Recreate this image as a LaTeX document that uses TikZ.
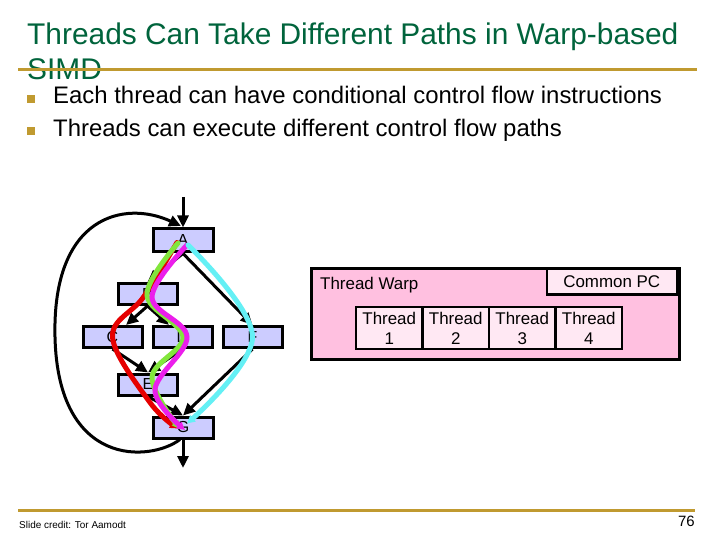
\documentclass[tikz,border=0pt]{standalone}
\usepackage{fontspec}
\setmainfont{Liberation Sans}
\usetikzlibrary{arrows.meta,calc}
\definecolor{titlegreen}{RGB}{0,100,60}
\definecolor{gold}{RGB}{192,154,48}
\definecolor{cfgfill}{RGB}{204,204,255}
\definecolor{warppink}{RGB}{255,192,224}
\definecolor{cellpink}{RGB}{255,232,243}
\definecolor{tred}{RGB}{230,0,0}
\definecolor{tgreen}{RGB}{130,230,60}
\definecolor{tmag}{RGB}{235,30,235}
\definecolor{tcyan}{RGB}{100,240,245}
\begin{document}
\begin{tikzpicture}[x=1bp,y=-1bp,
  cfg/.style={draw=black,line width=3bp,fill=cfgfill,minimum width=59bp,minimum height=21bp,inner sep=0pt,font=\fontsize{16}{18}\selectfont},
  edge/.style={draw=black,line width=3bp,-{Triangle[length=12bp,width=11bp]}},
  thread/.style={line width=5bp,line cap=round,-{Triangle[length=8bp,width=8bp]}},
  cell/.style={draw=black,line width=2.5bp,fill=cellpink,minimum width=66.5bp,minimum height=42bp,inner sep=0pt,align=center,font=\fontsize{17}{20}\selectfont},
  txt/.style={inner sep=0pt,anchor=base west},
  rule/.style={draw=gold,line width=3bp},
  bullet/.style={fill=gold,draw=none,minimum size=8bp,inner sep=0pt}
]
\useasboundingbox[fill=white] (0,0) rectangle (720,540);

% title and rules
\node[txt,text=titlegreen,font=\fontsize{30}{34}\selectfont] (t1) at (27,45) {Threads Can Take Different Paths in Warp-based};
\node[txt,text=titlegreen,font=\fontsize{30}{34}\selectfont] (t2) at (27,80) {SIMD};
\draw[rule] (18,70) -- (697,70);

% bullets
\node[bullet] (b1) at (31,99) {};
\node[bullet] (b2) at (31,131) {};
\node[txt,font=\fontsize{24}{28}\selectfont] (l1) at (53,104) {Each thread can have conditional control flow instructions};
\node[txt,font=\fontsize{24}{28}\selectfont] (l2) at (53,137) {Threads can execute different control flow paths};

% CFG nodes
\node[cfg,minimum width=60bp,minimum height=23bp] (A) at (183,240.5) {A};
\node[cfg] (B) at (147.5,294) {B};
\node[cfg] (C) at (112.5,337) {C};
\node[cfg] (D) at (182.5,337) {D};
\node[cfg] (F) at (252.5,337) {F};
\node[cfg] (E) at (148,384.5) {E};
\node[cfg,minimum width=60bp] (G) at (183,427.5) {G};

\coordinate (start) at (183,197);
\coordinate (stop) at (183,468);
\coordinate (Ain) at (181,226);

\draw[edge] (start) -- (A.north);
\draw[edge] (G.south) -- (stop);
\draw[edge] (A.south) -- (B.north);
\draw[edge] (A.south) -- (F.north);
\draw[edge] (B.south) -- (C);
\draw[edge] (B.south) -- (D);
\draw[edge] (C.south) -- (E.north);
\draw[edge] (D.south) -- (E.north);
\draw[edge] (E.south) -- (G.north);
\draw[edge] (F.south) -- (G.north);
\draw[edge] ([xshift=-3bp]G.south) .. controls (150,462) and (58,468) .. (55,337)
   .. controls (52,215) and (125,200) .. (Ain);

% thread paths
\draw[thread,tred] plot[smooth,tension=0.6] coordinates {($(A)+(-6,2)$) ($(B)+(-4,3)$) ($(C)+(0,0)$) ($(E)+(2,18)$) ($(G)+(-5,1)$)};
\draw[thread,tgreen] plot[smooth,tension=0.6] coordinates {($(A)+(-5,2.5)$) ($(B)+(-0.5,1)$) ($(D)+(0.5,0)$) ($(E)+(4,-7)$) ($(G)+(-3,1.5)$)};
\draw[thread,tmag] plot[smooth,tension=0.6] coordinates {($(A)+(4,4.5)$) ($(B)+(4.5,3)$) ($(D)+(4.5,0)$) ($(E)+(7,5.5)$) ($(G)+(2,2.5)$)};
\draw[thread,tcyan] plot[smooth,tension=0.6] coordinates {($(A)+(5,4.5)$) ($(F)+(0,0)$) ($(G)+(4,-4)$)};

% thread warp
\node[draw=black,line width=3bp,fill=warppink,minimum width=368bp,minimum height=91bp,inner sep=0pt,anchor=north west] (warp) at (310,267) {};
\node[draw=black,line width=2.5bp,fill=cellpink,minimum width=130bp,minimum height=26bp,inner sep=0pt,anchor=north east,font=\fontsize{17}{20}\selectfont] (pc) at (678,267) {Common PC};
\node[inner sep=0pt,anchor=west,font=\fontsize{17}{20}\selectfont] (wl) at (320,285) {Thread Warp};
\node[cell] (th1) at (389.25,328) {Thread\\1};
\node[cell] (th2) at (455.75,328) {Thread\\2};
\node[cell] (th3) at (522.25,328) {Thread\\3};
\node[cell] (th4) at (588.75,328) {Thread\\4};

% footer
\draw[rule] (18,510) -- (695,510);
\node[txt,font=\fontsize{10}{12}\selectfont] (credit) at (19,528) {Slide credit: Tor Aamodt};
\node[inner sep=0pt,anchor=base east,font=\fontsize{15}{18}\selectfont] (page) at (695,526) {76};
\end{tikzpicture}
\end{document}
